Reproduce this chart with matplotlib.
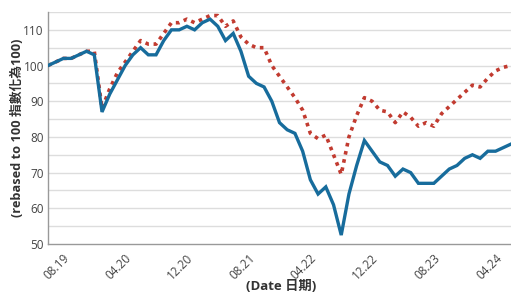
import matplotlib
matplotlib.use("Agg")
import matplotlib.pyplot as plt
import matplotlib.transforms as mtransforms
import numpy as np

plt.rcParams['font.family'] = ['Open Sans', 'Noto Sans CJK TC', 'DejaVu Sans']

# monthly data, starting Aug 2019
months = list(range(61))
blue_values = [100, 101, 102, 102, 103, 104, 103, 87, 92, 96,
               100, 103, 105, 103, 103, 107, 110, 110, 111, 110,
               112, 113, 111, 107, 109, 104, 97, 95, 94, 90,
               84, 82, 81, 76, 68, 64, 66, 61, 52.5, 64,
               72, 79, 76, 73, 72, 69, 71, 70, 67, 67,
               67, 69, 71, 72, 74, 75, 74, 76, 76, 77,
               78]
red_values = [100, 101, 102, 102, 103, 104, 104, 88, 93.5, 98,
              101, 104, 107, 106, 106, 109, 112, 112, 113, 112,
              113, 114, 114, 111, 112.5, 108, 106, 105, 105, 100,
              97, 94, 91, 87.5, 81, 79.5, 80.5, 75, 69.5, 80,
              86, 91, 90, 87.5, 87, 84, 87, 85.5, 83, 84,
              83, 86.5, 88.5, 90.5, 92.5, 94.5, 94, 96.5, 98.5, 99.5,
              100]
tick_positions = [0, 8, 16, 24, 32, 40, 48, 56]
tick_labels = ['08.19', '04.20', '12.20', '08.21', '04.22', '12.22', '08.23', '04.24']
y_ticks = [50, 60, 70, 80, 90, 100, 110]

W, H = 511, 298
fig = plt.figure(figsize=(W / 100, H / 100), dpi=100)
ax = fig.add_axes([48 / W, 1 - 244 / H, (W - 48) / W, (244 - 12) / H])

ax.set_xlim(0, 60)
ax.set_ylim(50, 115)

# gridlines every 5
for v in np.arange(55, 116, 5):
    ax.axhline(v, color='#dddddd', lw=1.0, zorder=0)

ax.plot(months, red_values, color='#c23b30', lw=2.6, linestyle=(0, (1.0, 1.3)),
        dash_capstyle='butt', zorder=2)
ax.plot(months, blue_values, color='#176c9c', lw=2.4, solid_joinstyle='miter',
        zorder=3)

for s in ['top', 'right']:
    ax.spines[s].set_visible(False)
for s in ['left', 'bottom']:
    ax.spines[s].set_color('#999999')
    ax.spines[s].set_linewidth(1.0)

ax.set_yticks(y_ticks)
ax.set_yticklabels([str(v) for v in y_ticks], fontsize=8.5, color='#444444')
ax.tick_params(axis='y', length=0, pad=3)

ax.set_xticks(tick_positions)
ax.set_xticklabels([])
ax.tick_params(axis='x', length=0)
offset = mtransforms.ScaledTranslation(15 / 100, -8 / 100, fig.dpi_scale_trans)
trans = mtransforms.blended_transform_factory(ax.transData, ax.transAxes) + offset
for p, lab in zip(tick_positions, tick_labels):
    ax.text(p, 0, lab, transform=trans, rotation=45, rotation_mode='anchor',
            ha='right', va='top', fontsize=8.5, color='#444444')

fig.text(17 / W, 1 - 128 / H, '(rebased to 100 指數化為100)', rotation=90,
         ha='center', va='center', fontsize=9.2, fontweight='bold', color='#333333')
fig.text(281 / W, 1 - 287 / H, '(Date 日期)', ha='center', va='center',
         fontsize=9.5, fontweight='bold', color='#333333')

fig.savefig('out.png', dpi=100)
